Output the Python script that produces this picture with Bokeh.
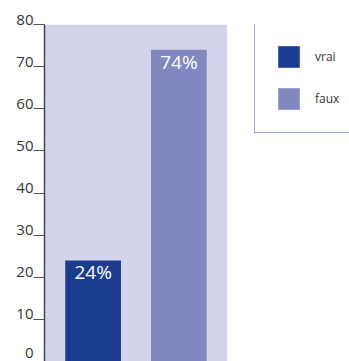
from bokeh.plotting import figure
from bokeh.models import (ColumnDataSource, Range1d, FixedTicker, Legend,
                          LegendItem, BoxAnnotation)
from bokeh.core.properties import value
from bokeh.embed import file_html
from bokeh.resources import INLINE

categories = ["vrai", "faux"]
values = [24, 74]
labels = ["24%", "74%"]
colors = ["#1c3c8f", "#8387c0"]
yticks = [0, 10, 20, 30, 40, 50, 60, 70, 80]

src = ColumnDataSource(dict(x=list(range(len(categories))), top=values,
                            cat=categories, lab=labels, color=colors))

p = figure(width=349, height=361, output_backend="svg", toolbar_location=None,
           x_range=Range1d(-0.567, 2.99), y_range=Range1d(0, 80),
           min_border_left=44, min_border_right=0, min_border_top=24,
           min_border_bottom=0)
p.background_fill_color = "white"
p.border_fill_color = "white"
p.outline_line_color = None
p.grid.visible = False
p.xaxis.visible = False

# plot-area panel behind the bars
p.add_layout(BoxAnnotation(right=1.561, fill_color="#d3d3ea", fill_alpha=1,
                           line_color=None, level="underlay"))

r = p.vbar(x="x", top="top", width=0.65, bottom=-5, source=src,
           fill_color="color", line_color=None)

p.text(x="x", y="top", text="lab", source=src, text_color="white",
       text_font=value("Open Sans"), text_font_size="19px",
       text_align="center", text_baseline="top", y_offset=-1)

ax = p.yaxis[0]
ax.ticker = FixedTicker(ticks=yticks)
ax.major_label_overrides = {t: (f"{t}\n" if t else "0") for t in yticks}
ax.major_label_text_line_height = 0.6
ax.axis_line_color = "#444444"
ax.axis_line_width = 1.5
ax.major_tick_line_color = "#555555"
ax.major_tick_line_width = 1
ax.major_tick_out = 11
ax.major_tick_in = 0
ax.minor_tick_line_color = None
ax.major_label_standoff = 0
ax.major_label_text_font = "Open Sans"
ax.major_label_text_font_size = "15px"
ax.major_label_text_color = "#333333"

legend = Legend(items=[LegendItem(label=categories[i], renderers=[r], index=i)
                       for i in range(len(categories))],
                location=(210, 228), padding=20, margin=0, spacing=15,
                glyph_width=27, glyph_height=27, label_standoff=13,
                label_width=60, label_text_font="Open Sans",
                label_text_font_size="12px", label_text_color="#333333",
                border_line_color="#3a55a8", border_line_width=1,
                background_fill_color="white", background_fill_alpha=1)
p.add_layout(legend, "center")

open("out.html", "w").write(file_html(p, INLINE))
